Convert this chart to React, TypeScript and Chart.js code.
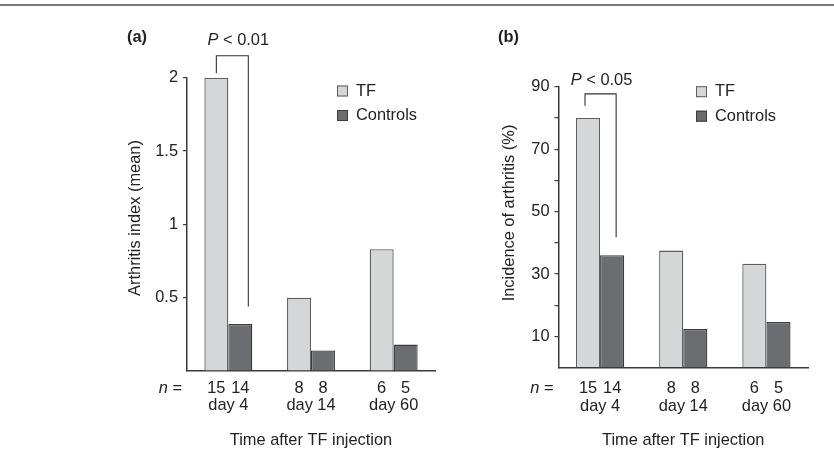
import React, { useEffect, useRef } from 'react';
import { Chart, registerables } from 'chart.js';

Chart.register(...registerables);

// ---- data ----
const categories = ['day 4', 'day 14', 'day 60'];
const seriesLabels = ['TF', 'Controls'];
const nTF = [15, 8, 6];
const nControls = [14, 8, 5];
const indexTF = [2.0, 0.5, 0.83];
const indexControls = [0.32, 0.14, 0.18];
const incidenceTF = [80, 37.5, 33.3];
const incidenceControls = [36, 12.4, 14.6];
const ticksALabelled = [0.5, 1, 1.5, 2];
const ticksBLabelled = [10, 30, 50, 70, 90];
const pValueA = '0.01';
const pValueB = '0.05';
const bracketA = [2.15, 2.03, 0.44]; // top, left end, right end (data values)
const bracketB = [87.7, 83.9, 41.8];
const xTitle = 'Time after TF injection';

// ---- style ----
const FONT = '"Liberation Sans", Arial, Helvetica, sans-serif';
const FS = 16.4;
const TEXT = '#222222';
const AXIS = '#3a3a3a';
const TF_FILL = '#d4d6d8';
const TF_BORDER = '#5e5e5e';
const CT_FILL = '#6b6d70';
const CT_BORDER = '#3c3c3c';

type Panel = {
  label: string;
  tf: number[];
  ct: number[];
  yMin: number;
  yMax: number;
  yStep: number;
  yLabelled: number[];
  yTitle: string;
  yTitleX: number;
  yTitleY: number;
  pValue: string;
  bracket: number[];
  bracketDx: number[];
  pDx: number;
  pDy: number;
  canvasLeft: number;
  canvasWidth: number;
  padLeft: number;
  padTop: number;
  padRight: number;
  yWidth: number;
  xHeight: number;
  tickPad: number;
  panelX: number;
  panelY: number;
  legendX: number;
  legendY: number;
  nY: number;
};

const panels: Panel[] = [
  {
    label: '(a)', tf: indexTF, ct: indexControls, yMin: 0, yMax: 2, yStep: 0.5,
    yLabelled: ticksALabelled, yTitle: 'Arthritis index (mean)', yTitleX: 135, yTitleY: 218,
    pValue: pValueA, bracket: bracketA, bracketDx: [0, 8], pDx: 6, pDy: 15,
    canvasLeft: 0, canvasWidth: 460, padLeft: 125.4, padTop: 77.7, padRight: 25,
    yWidth: 61.6, xHeight: 97, tickPad: 25, panelX: 127, panelY: 37,
    legendX: 337, legendY: 91, nY: 388,
  },
  {
    label: '(b)', tf: incidenceTF, ct: incidenceControls, yMin: 0, yMax: 90, yStep: 10,
    yLabelled: ticksBLabelled, yTitle: 'Incidence of arthritis (%)', yTitleX: 49, yTitleY: 213,
    pValue: pValueB, bracket: bracketB, bracketDx: [-3, 4], pDx: 1, pDy: 13.3,
    canvasLeft: 460, canvasWidth: 374, padLeft: 39.4, padTop: 86.7, padRight: 26,
    yWidth: 59.1, xHeight: 100.3, tickPad: 28.7, panelX: 38, panelY: 37,
    legendX: 236, legendY: 91.7, nY: 388,
  },
];

function overlayPlugin(p: Panel) {
  return {
    id: 'overlay' + p.label,
    afterDraw(chart: any) {
      const ctx = chart.ctx as CanvasRenderingContext2D;
      const xs = chart.scales.x;
      const ys = chart.scales.y;
      const m0 = chart.getDatasetMeta(0).data;
      const m1 = chart.getDatasetMeta(1).data;
      ctx.save();
      ctx.fillStyle = TEXT;
      ctx.textBaseline = 'middle';

      // y-axis title
      ctx.save();
      ctx.font = `${FS}px ${FONT}`;
      ctx.textAlign = 'center';
      ctx.translate(p.yTitleX, p.yTitleY);
      ctx.rotate(-Math.PI / 2);
      ctx.fillText(p.yTitle, 0, 0);
      ctx.restore();

      // n row
      ctx.font = `${FS}px ${FONT}`;
      ctx.textAlign = 'center';
      for (let i = 0; i < categories.length; i++) {
        ctx.fillText(String(nTF[i]), m0[i].x, p.nY);
        ctx.fillText(String(nControls[i]), m1[i].x, p.nY);
      }
      ctx.textAlign = 'right';
      const eqX = xs.left - 5;
      ctx.fillText(' =', eqX, p.nY);
      const eqW = ctx.measureText(' =').width;
      ctx.font = `italic ${FS}px ${FONT}`;
      ctx.fillText('n', eqX - eqW, p.nY);

      // panel label
      ctx.font = `bold ${FS}px ${FONT}`;
      ctx.textAlign = 'left';
      ctx.fillText(p.label, p.panelX, p.panelY);

      // significance bracket
      const xl = m0[0].x + p.bracketDx[0];
      const xr = m1[0].x + p.bracketDx[1];
      const yt = ys.getPixelForValue(p.bracket[0]);
      const yl = ys.getPixelForValue(p.bracket[1]);
      const yr = ys.getPixelForValue(p.bracket[2]);
      ctx.strokeStyle = '#333';
      ctx.lineWidth = 1.1;
      ctx.beginPath();
      ctx.moveTo(xl, yl);
      ctx.lineTo(xl, yt);
      ctx.lineTo(xr, yt);
      ctx.lineTo(xr, yr);
      ctx.stroke();

      // P text
      ctx.font = `italic ${FS}px ${FONT}`;
      const pW = ctx.measureText('P').width;
      ctx.font = `${FS}px ${FONT}`;
      const rest = ` < ${p.pValue}`;
      const rW = ctx.measureText(rest).width;
      const cx = (xl + xr) / 2 + p.pDx;
      const startX = cx - (pW + rW) / 2;
      const ty = yt - p.pDy;
      ctx.textAlign = 'left';
      ctx.fillText(rest, startX + pW, ty);
      ctx.font = `italic ${FS}px ${FONT}`;
      ctx.fillText('P', startX, ty);

      // legend
      ctx.font = `${FS}px ${FONT}`;
      chart.data.datasets.forEach((ds: any, k: number) => {
        const cy = p.legendY + k * 24.5;
        ctx.fillStyle = ds.backgroundColor;
        ctx.fillRect(p.legendX, cy - 5.5, 11, 11);
        ctx.strokeStyle = ds.borderColor;
        ctx.lineWidth = 1;
        ctx.strokeRect(p.legendX + 0.5, cy - 5, 10, 10);
        ctx.fillStyle = TEXT;
        ctx.fillText(ds.label, p.legendX + 19, cy);
      });
      ctx.restore();
    },
  };
}

function PanelChart({ p }: { p: Panel }) {
  const ref = useRef<HTMLCanvasElement | null>(null);
  useEffect(() => {
    if (!ref.current) return;
    const font = { family: FONT, size: FS };
    const chart = new Chart(ref.current, {
      type: 'bar',
      data: {
        labels: categories,
        datasets: [
          { label: seriesLabels[0], data: p.tf, backgroundColor: TF_FILL, borderColor: TF_BORDER, borderWidth: 1.3 },
          { label: seriesLabels[1], data: p.ct, backgroundColor: CT_FILL, borderColor: CT_BORDER, borderWidth: 1.3 },
        ],
      },
      options: {
        animation: false,
        responsive: false,
        events: [],
        layout: { padding: { left: p.padLeft, top: p.padTop, right: p.padRight, bottom: 0 } },
        datasets: { bar: { categoryPercentage: 0.58, barPercentage: 1 } } as any,
        plugins: { legend: { display: false }, tooltip: { enabled: false }, title: { display: false } },
        scales: {
          x: {
            grid: { display: true, drawOnChartArea: false, drawTicks: false, color: 'rgba(0,0,0,0)' },
            border: { display: true, color: AXIS, width: 1.5 },
            ticks: { font, color: TEXT, padding: p.tickPad, maxRotation: 0 },
            title: { display: true, text: xTitle, font, color: TEXT, padding: { top: 0, bottom: 17.4 } },
            afterFit: (s: any) => { s.height = p.xHeight; },
          },
          y: {
            min: p.yMin,
            max: p.yMax,
            grid: {
              display: true, drawOnChartArea: false, drawTicks: true, tickLength: 4, lineWidth: 1.2,
              color: (c: any) => (c.tick && c.tick.value === 0 ? 'rgba(0,0,0,0)' : AXIS),
            },
            border: { display: true, color: AXIS, width: 1.5 },
            ticks: {
              stepSize: p.yStep, font, color: TEXT, padding: 5,
              callback: (v: any) => (p.yLabelled.includes(Number(v)) ? String(v) : ''),
            },
            title: { display: false },
            afterFit: (s: any) => { s.width = p.yWidth; },
          },
        },
      },
      plugins: [overlayPlugin(p)],
    } as any);
    return () => chart.destroy();
  }, [p]);
  return (
    <canvas
      ref={ref}
      width={p.canvasWidth}
      height={468}
      style={{ position: 'absolute', left: p.canvasLeft, top: 0, width: p.canvasWidth, height: 468 }}
    />
  );
}

export default function App() {
  return (
    <div style={{ position: 'fixed', left: 0, top: 0, width: 834, height: 468, background: '#fff', overflow: 'hidden' }}>
      {panels.map((p) => (
        <PanelChart key={p.label} p={p} />
      ))}
      <div style={{ position: 'absolute', left: 0, top: 4, width: 834, height: 2, background: '#7a7a7a' }} />
    </div>
  );
}
